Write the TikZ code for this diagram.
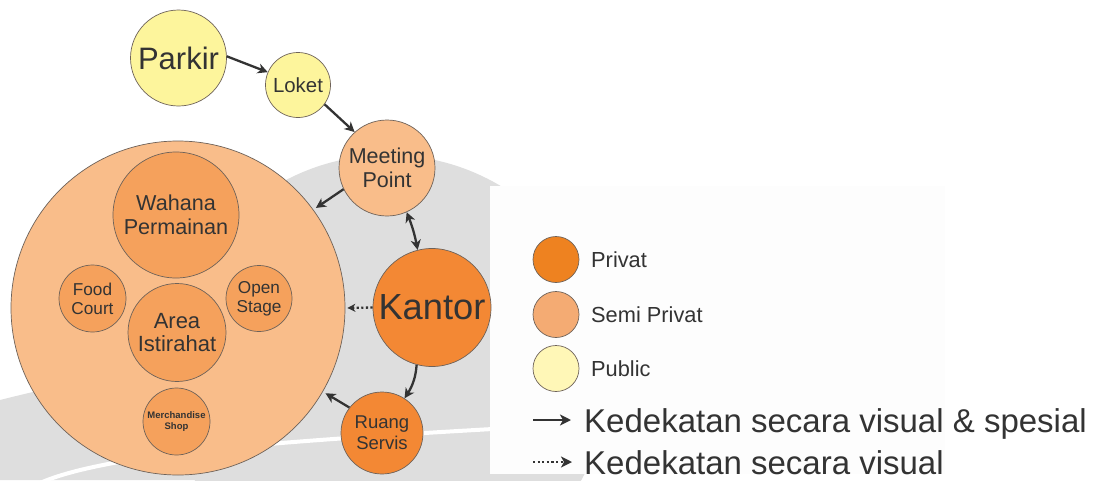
\documentclass[tikz,border=0pt]{standalone}
\usepackage{fontspec}
\setmainfont{Liberation Sans}
\usetikzlibrary{arrows.meta,bending}

\definecolor{txt}{HTML}{333333}
\definecolor{rim}{HTML}{6E6259}
\definecolor{pubfill}{HTML}{FDF59C}
\definecolor{semifill}{HTML}{F9BD8A}
\definecolor{innerfill}{HTML}{F5A15C}
\definecolor{privfill}{HTML}{F38834}
\definecolor{legpriv}{HTML}{EE8220}
\definecolor{legsemi}{HTML}{F4AB73}
\definecolor{legpub}{HTML}{FFF7B7}
\definecolor{emblemgray}{HTML}{DEDEDE}
\definecolor{panel}{HTML}{FDFDFD}

\tikzset{
  room/.style={circle, draw=rim, line width=0.7pt, inner sep=0pt, text=txt, align=center},
  key/.style={circle, draw=rim, line width=0.7pt, inner sep=0pt, minimum size=46pt},
  keytext/.style={anchor=west, inner sep=0pt, text=txt},
  link/.style={->, draw=txt, line width=2.3pt},
  twoway/.style={<->, draw=txt, line width=2.3pt},
  seen/.style={->, draw=txt, line width=2.3pt, dash pattern=on 2.2pt off 2.4pt},
  keyarrow/.style={line width=2.8pt, >={Stealth[length=11pt,width=11pt,inset=3pt]}},
}

\begin{document}
\begin{tikzpicture}[x=1pt, y=-1pt,
  >={Stealth[length=10pt,width=10pt,inset=3pt]}]
  \useasboundingbox (0,0) rectangle (1109,480);
  \fill[white] (0,0) rectangle (1109,480);

  % faint emblem in the background
  \begin{scope}
    \clip (0,0) rectangle (1109,480);
    \fill[emblemgray] (388,375) circle[radius=220];
    \fill[emblemgray] (0,400) .. controls (60,385) and (150,365) .. (250,352)
      -- (250,480) -- (0,480) -- cycle;
    \draw[white, line width=4pt] (40,483) .. controls (110,452) and (300,440) .. (510,428);
  \end{scope}

  % legend panel
  \fill[panel] (490,186) rectangle (945,474);

  % zones
  \node[room, fill=pubfill, minimum size=96pt, font=\fontsize{31}{34}\selectfont]
    (parkir) at (178.5,58) {Parkir};
  \node[room, fill=pubfill, minimum size=65pt, font=\fontsize{20.4}{23}\selectfont]
    (loket) at (298,85) {Loket};
  \node[room, fill=semifill, minimum size=96pt, font=\fontsize{21.5}{24}\selectfont]
    (meet) at (387,168) {Meeting\\Point};
  \node[room, fill=semifill, minimum size=334pt] (zone) at (178,308) {};
  \node[room, fill=innerfill, minimum size=126pt, font=\fontsize{21.6}{24}\selectfont]
    (wahana) at (176,215) {Wahana\\Permainan};
  \node[room, fill=innerfill, minimum size=67pt, font=\fontsize{17.2}{19}\selectfont]
    (food) at (92.5,298.5) {Food\\Court};
  \node[room, fill=innerfill, minimum size=66pt, font=\fontsize{17.2}{19}\selectfont]
    (stage) at (259,298.5) {Open\\Stage};
  \node[room, fill=innerfill, minimum size=98pt, font=\fontsize{22}{23.5}\selectfont]
    (rest) at (177,332.5) {Area\\Istirahat};
  \node[room, fill=innerfill, minimum size=67pt, font=\bfseries\fontsize{9.5}{11.7}\selectfont]
    (shop) at (176.5,421.5) {Merchandise\\Shop};
  \node[room, fill=privfill, minimum size=118pt, font=\fontsize{36.3}{40}\selectfont]
    (kantor) at (432,307.5) {Kantor};
  \node[room, fill=privfill, minimum size=82pt, font=\fontsize{18.5}{21}\selectfont]
    (servis) at (382,433) {Ruang\\Servis};

  % relations
  \draw[link] (parkir.2) -- (loket.157);
  \draw[link] (loket.-36) -- (meet.132);
  \draw[link, shorten >=3pt] (meet.206) -- (zone.36);
  \draw[twoway] (meet.-66) to[bend left=6] (kantor.104);
  \draw[seen, shorten >=2pt, >={Stealth[length=8pt,width=8pt,inset=2.5pt]}] (kantor.west) -- (zone.east);
  \draw[link] (kantor.255) to[bend left=15] (servis.57);
  \draw[link, shorten >=3pt] (servis.142) -- (zone.-30);

  % legend
  \node[key, fill=legpriv] (kpriv) at (556,259.5) {};
  \node[key, fill=legsemi] (ksemi) at (556,314.5) {};
  \node[key, fill=legpub]  (kpub)  at (556,368.5) {};
  \node[keytext, font=\fontsize{21.8}{24}\selectfont] (tpriv) at (591,259.5) {Privat};
  \node[keytext, font=\fontsize{21.8}{24}\selectfont] (tsemi) at (591,314.5) {Semi Privat};
  \node[keytext, font=\fontsize{21.8}{24}\selectfont] (tpub)  at (591,368.5) {Public};

  \coordinate (a1) at (533,420);
  \coordinate (b1) at (571,420);
  \coordinate (a2) at (533,462);
  \coordinate (b2) at (572,462);
  \draw[link, keyarrow] (a1) -- (b1);
  \draw[seen, keyarrow] (a2) -- (b2);
  \node[anchor=base west, inner sep=0pt, text=txt, font=\fontsize{33}{37}\selectfont]
    (tvs) at (584,432) {Kedekatan secara visual \& spesial};
  \node[anchor=base west, inner sep=0pt, text=txt, font=\fontsize{33}{37}\selectfont]
    (tv) at (584,474) {Kedekatan secara visual};
\end{tikzpicture}
\end{document}
